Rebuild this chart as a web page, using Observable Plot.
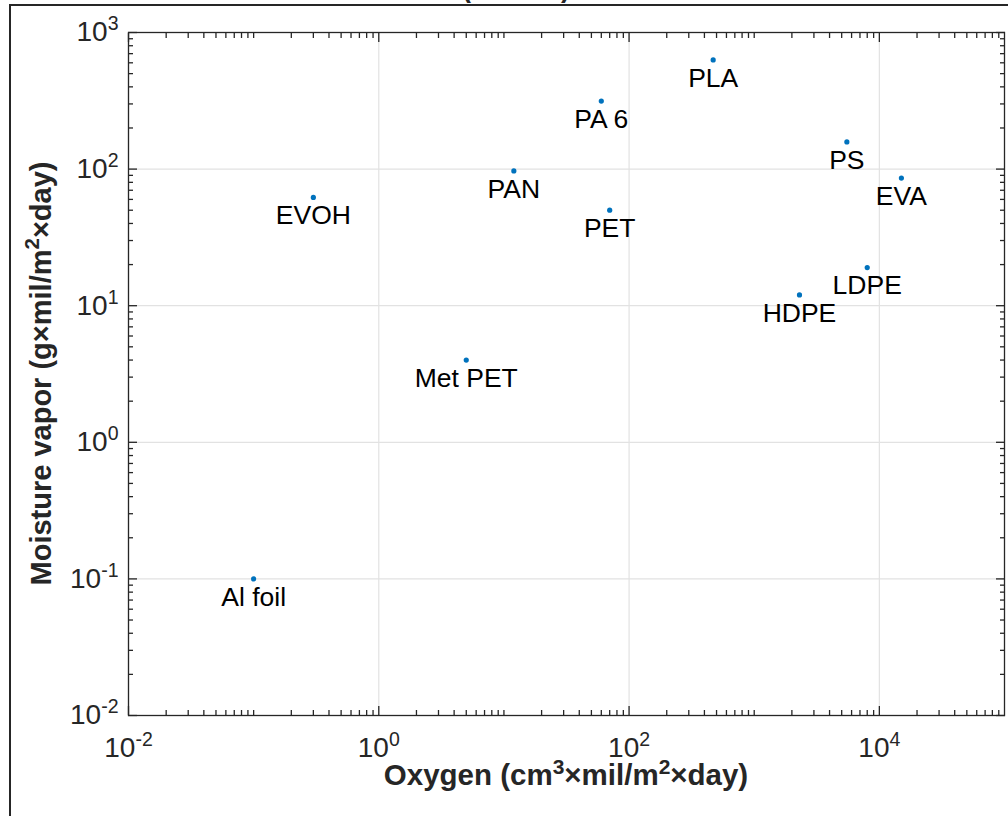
<!DOCTYPE html>
<html>
<head>
<meta charset="utf-8">
<script src="https://cdn.jsdelivr.net/npm/d3@7"></script>
<script src="https://cdn.jsdelivr.net/npm/@observablehq/plot@0.6"></script>
<style>
  html, body { margin: 0; padding: 0; background: #fff; }
  #wrap { position: relative; width: 1008px; height: 816px; overflow: hidden; }
  #wrap svg { position: absolute; left: 0; top: 0; }
  #border { position: absolute; left: 9px; top: 4px; width: 1010px; height: 820px;
            border-left: 2px solid #262626; border-top: 2px solid #262626; pointer-events: none; }
</style>
</head>
<body>
<div id="wrap"><div id="border"></div></div>
<script>
// ---- data ----
const materials = ["Al foil", "EVOH", "Met PET", "PAN", "PA 6", "PET", "PLA", "PS", "EVA", "LDPE", "HDPE"];
const oxygen    = [0.1, 0.3, 5, 12, 60, 70, 470, 5500, 15000, 8000, 2300];
const moisture  = [0.1, 62, 4, 97, 315, 50, 630, 158, 86, 19, 12];

const xMajor = [1e-2, 1e0, 1e2, 1e4];
const xTickLabels = ["10^-2", "10^0", "10^2", "10^4"];
const yMajor = [1e-2, 1e-1, 1e0, 1e1, 1e2, 1e3];
const yTickLabels = ["10^-2", "10^-1", "10^0", "10^1", "10^2", "10^3"];
const xDecades = [1e-2, 1e-1, 1e0, 1e1, 1e2, 1e3, 1e4];
const yDecades = [1e-2, 1e-1, 1e0, 1e1, 1e2];
const minorMultipliers = [2, 3, 4, 5, 6, 7, 8, 9];

const xMinor = xDecades.flatMap(d => minorMultipliers.map(m => d * m)).concat([1e-1, 1e1, 1e3]);
const yMinor = yDecades.flatMap(d => minorMultipliers.map(m => d * m));

const table = materials.map((m, i) => ({material: m, oxygen: oxygen[i], moisture: moisture[i]}));

const axisColor = "#262626";
const blank = () => "";
const xFmt = d => xTickLabels[xMajor.indexOf(d)];
const yFmt = d => yTickLabels[yMajor.indexOf(d)];

const chart = Plot.plot({
  width: 1008,
  height: 816,
  marginLeft: 128,
  marginRight: 4,
  marginTop: 32,
  marginBottom: 101,
  style: {fontFamily: "'Liberation Sans', Arial, Helvetica, sans-serif", fontSize: "28px", color: axisColor, background: "transparent", overflow: "visible"},
  x: {type: "log", domain: [1e-2, 1e5]},
  y: {type: "log", domain: [1e-2, 1e3]},
  marks: [
    Plot.gridX(xMajor, {stroke: "#e2e2e2", strokeOpacity: 1, strokeWidth: 1.2}),
    Plot.gridY(yMajor, {stroke: "#e2e2e2", strokeOpacity: 1, strokeWidth: 1.2}),
    // inward ticks on all four sides
    Plot.axisX(xMajor, {anchor: "bottom", tickSize: -9, tickFormat: blank, label: null, stroke: axisColor, strokeWidth: 1.3}),
    Plot.axisX(xMajor, {anchor: "top", tickSize: -9, tickFormat: blank, label: null, stroke: axisColor, strokeWidth: 1.3}),
    Plot.axisX(xMinor, {anchor: "bottom", tickSize: -5, tickFormat: blank, label: null, stroke: axisColor, strokeWidth: 1.3}),
    Plot.axisX(xMinor, {anchor: "top", tickSize: -5, tickFormat: blank, label: null, stroke: axisColor, strokeWidth: 1.3}),
    Plot.axisY(yMajor, {anchor: "left", tickSize: -9, tickFormat: blank, label: null, stroke: axisColor, strokeWidth: 1.3}),
    Plot.axisY(yMajor, {anchor: "right", tickSize: -9, tickFormat: blank, label: null, stroke: axisColor, strokeWidth: 1.3}),
    Plot.axisY(yMinor, {anchor: "left", tickSize: -5, tickFormat: blank, label: null, stroke: axisColor, strokeWidth: 1.3}),
    Plot.axisY(yMinor, {anchor: "right", tickSize: -5, tickFormat: blank, label: null, stroke: axisColor, strokeWidth: 1.3}),
    // tick labels
    Plot.axisX(xMajor, {anchor: "bottom", tickSize: 0, tickPadding: 22, tickFormat: xFmt, label: null, fill: axisColor, fontSize: 28}),
    Plot.axisY(yMajor, {anchor: "left", tickSize: 0, tickPadding: 10, tickFormat: yFmt, label: null, fill: axisColor, fontSize: 28}),
    Plot.frame({stroke: axisColor, strokeWidth: 1.3}),
    // data
    Plot.dot(table, {x: "oxygen", y: "moisture", r: 2.6, fill: "#0072BD", stroke: null}),
    Plot.text(table, {x: "oxygen", y: "moisture", text: "material", lineAnchor: "top", dy: 8, fontSize: 26.5, fill: "#000"})
  ]
});

document.getElementById("wrap").insertBefore(chart, document.getElementById("border"));

// turn "10^n" style strings into base + superscript tspans
function superscriptify(textEl, supSize, shift) {
  const s = textEl.textContent;
  if (!s.includes("^")) return;
  const parts = s.split(/\^(-?\d+)/);
  while (textEl.firstChild) textEl.removeChild(textEl.firstChild);
  const ns = "http://www.w3.org/2000/svg";
  for (let i = 0; i < parts.length; i++) {
    if (parts[i] === "") continue;
    const t = document.createElementNS(ns, "tspan");
    t.textContent = parts[i];
    if (i % 2 === 1) {
      t.setAttribute("font-size", supSize);
      t.setAttribute("dy", -shift);
      textEl.appendChild(t);
      if (i + 1 < parts.length && parts[i + 1] !== "") {
        const b = document.createElementNS(ns, "tspan");
        b.textContent = parts[i + 1];
        b.setAttribute("dy", shift);
        textEl.appendChild(b);
        i++;
      }
    } else {
      textEl.appendChild(t);
    }
  }
}

const svg = d3.select(chart);
svg.selectAll("text").each(function() { superscriptify(this, 19.5, 11); });

// axis titles
const xLabel = svg.append("text")
  .attr("x", (128 + 1004) / 2).attr("y", 785)
  .attr("text-anchor", "middle")
  .attr("font-size", 29.5).attr("font-weight", "bold").attr("fill", axisColor)
  .text("Oxygen (cm^3×mil/m^2×day)");
superscriptify(xLabel.node(), 21, 11);

const yLabel = svg.append("text")
  .attr("transform", `translate(51, ${(32 + 715) / 2}) rotate(-90)`)
  .attr("text-anchor", "middle")
  .attr("font-size", 29).attr("font-weight", "bold").attr("fill", axisColor)
  .text("Moisture vapor (g×mil/m^2×day)");
superscriptify(yLabel.node(), 20.5, 12);

// cropped title (only the tails of its parentheses are visible)
svg.append("text")
  .attr("x", 516).attr("y", -3)
  .attr("text-anchor", "middle")
  .attr("font-size", 27).attr("font-weight", "bold").attr("fill", axisColor)
  .style("white-space", "pre")
  .text("(            )");
</script>
</body>
</html>
